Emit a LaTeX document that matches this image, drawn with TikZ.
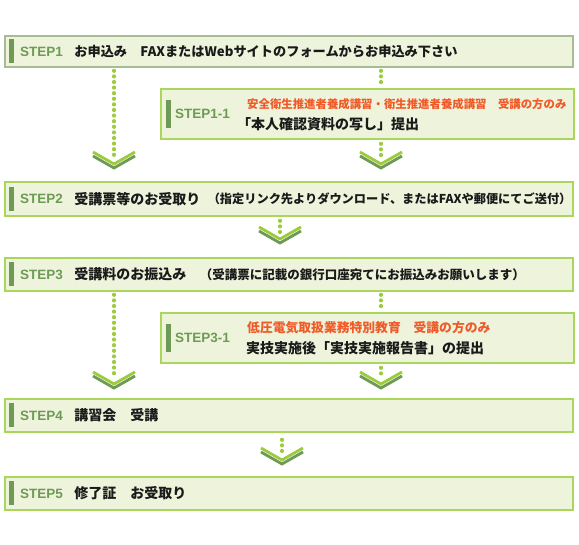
\documentclass[tikz,border=0pt]{standalone}
\usepackage{fontspec}
\setmainfont{Liberation Sans}
\newfontfamily\jpfont{Noto Sans CJK JP}
\usetikzlibrary{positioning}
\definecolor{palegreen}{HTML}{EEF4DC}
\definecolor{leafgreen}{HTML}{AAD65C}
\definecolor{greyleaf}{HTML}{A7BB96}
\definecolor{mossgreen}{HTML}{6E9A55}
\definecolor{limegreen}{HTML}{9CCC3C}
\definecolor{stepred}{HTML}{F05A28}
\definecolor{darktext}{HTML}{1A1A1A}

\begin{document}
\begin{tikzpicture}[x=1pt, y=-1pt,
	stepbox/.style={draw=leafgreen, line width=1.8pt, fill=palegreen, anchor=north west, inner sep=0pt},
	stepbar/.style={fill=mossgreen, minimum width=5pt, minimum height=24pt, inner sep=0pt, anchor=west},
	steplabel/.style={text=mossgreen, font=\fontsize{13.5}{13.5}\selectfont\bfseries, inner sep=0pt, anchor=west},
	steptext/.style={text=darktext, font=\jpfont\fontsize{14}{14}\selectfont\bfseries, inner sep=0pt, anchor=west},
	smalltext/.style={text=darktext, font=\jpfont\fontsize{12.2}{13}\selectfont\bfseries, inner sep=0pt, anchor=west},
	redtext/.style={text=stepred, font=\jpfont\fontsize{11.4}{12}\selectfont\bfseries, inner sep=0pt, anchor=west},
	dotline/.style={limegreen, line width=4.2pt, line cap=round, dash pattern=on 0pt off 5.6pt},
	downmark/.pic={
		\draw[mossgreen, line width=2.8pt] (-21,-8) -- (0,4) -- (21,-8);
		\draw[limegreen, line width=2.8pt] (-21,-12) -- (0,0) -- (21,-12);
	}]
	\useasboundingbox (0,0) rectangle (579,545);

	% boxes
	\node[stepbox, draw=greyleaf, minimum width=568pt, minimum height=31pt] (s1) at (4,35) {};
	\node[stepbox, minimum width=413pt, minimum height=50pt] (s11) at (160,88) {};
	\node[stepbox, minimum width=568pt, minimum height=34pt] (s2) at (4,181) {};
	\node[stepbox, minimum width=568pt, minimum height=33pt] (s3) at (4,257) {};
	\node[stepbox, minimum width=413pt, minimum height=50pt] (s31) at (160,312) {};
	\node[stepbox, minimum width=568pt, minimum height=33pt] (s4) at (4,398) {};
	\node[stepbox, minimum width=568pt, minimum height=33pt] (s5) at (4,476) {};

	% STEP1
	\node[stepbar] at ([xshift=5pt]s1.west) {};
	\node[steplabel] (s1lab) at ([xshift=16pt]s1.west) {STEP1};
	\node[steptext, font=\jpfont\fontsize{13.2}{14}\selectfont\bfseries, right=11pt of s1lab] (s1txt) {お申込み　FAXまたはWebサイトのフォームからお申込み下さい};

	% STEP1-1
	\node[stepbar, minimum height=28pt] at ([xshift=6pt]s11.west) {};
	\node[steplabel] (s11lab) at ([xshift=15pt]s11.west) {STEP1-1};
	\node[redtext] (s11red) at ([xshift=87pt, yshift=10pt]s11.west) {安全衛生推進者養成講習・衛生推進者養成講習　受講の方のみ};
	\node[steptext] (s11txt) at ([xshift=77pt, yshift=-10pt]s11.west) {「本人確認資料の写し」提出};

	% STEP2
	\node[stepbar] at ([xshift=5pt]s2.west) {};
	\node[steplabel] (s2lab) at ([xshift=16pt]s2.west) {STEP2};
	\node[steptext, right=11pt of s2lab] (s2txt) {受講票等のお受取り};
	\node[smalltext, right=7pt of s2txt] (s2note) {（指定リンク先よりダウンロード、またはFAXや郵便にてご送付）};

	% STEP3
	\node[stepbar] at ([xshift=5pt]s3.west) {};
	\node[steplabel] (s3lab) at ([xshift=16pt]s3.west) {STEP3};
	\node[steptext, right=11pt of s3lab] (s3txt) {受講料のお振込み};
	\node[smalltext, font=\jpfont\fontsize{12.5}{13}\selectfont\bfseries, right=13pt of s3txt] (s3note) {（受講票に記載の銀行口座宛てにお振込みお願いします）};

	% STEP3-1
	\node[stepbar, minimum height=28pt] at ([xshift=6pt]s31.west) {};
	\node[steplabel] (s31lab) at ([xshift=15pt]s31.west) {STEP3-1};
	\node[redtext, font=\jpfont\fontsize{12.8}{13}\selectfont\bfseries] (s31red) at ([xshift=87pt, yshift=10pt]s31.west) {低圧電気取扱業務特別教育　受講の方のみ};
	\node[steptext] (s31txt) at ([xshift=86pt, yshift=-10pt]s31.west) {実技実施後「実技実施報告書」の提出};

	% STEP4, STEP5
	\node[stepbar] at ([xshift=5pt]s4.west) {};
	\node[steplabel] (s4lab) at ([xshift=16pt]s4.west) {STEP4};
	\node[steptext, right=11pt of s4lab] (s4txt) {講習会　受講};
	\node[stepbar] at ([xshift=5pt]s5.west) {};
	\node[steplabel] (s5lab) at ([xshift=16pt]s5.west) {STEP5};
	\node[steptext, right=11pt of s5lab] (s5txt) {修了証　お受取り};

	% connectors
	\coordinate (c1) at (114,164);
	\coordinate (c2) at (381,164);
	\coordinate (c3) at (280,239);
	\coordinate (c4) at (114,384);
	\coordinate (c5) at (381,384);
	\coordinate (c6) at (282,460);
	\draw[dotline] ([yshift=-3pt]s1.south -| c1) -- ([yshift=7pt]c1);
	\draw[dotline] ([yshift=-3pt]s1.south -| c2) -- ([yshift=2pt]s11.north -| c2);
	\draw[dotline] ([yshift=-4pt]s11.south -| c2) -- ([yshift=7pt]c2);
	\draw[dotline] ([yshift=-4pt]s2.south -| c3) -- ([yshift=4pt]c3);
	\draw[dotline] ([yshift=-3pt]s3.south -| c4) -- ([yshift=7pt]c4);
	\draw[dotline] ([yshift=-3pt]s3.south -| c5) -- ([yshift=2pt]s31.north -| c5);
	\draw[dotline] ([yshift=-4pt]s31.south -| c5) -- ([yshift=7pt]c5);
	\draw[dotline] ([yshift=-7pt]s4.south -| c6) -- ([yshift=4pt]c6);
	\foreach \c in {c1,c2,c3,c4,c5,c6}
		\pic at (\c) {downmark};
\end{tikzpicture}
\end{document}
